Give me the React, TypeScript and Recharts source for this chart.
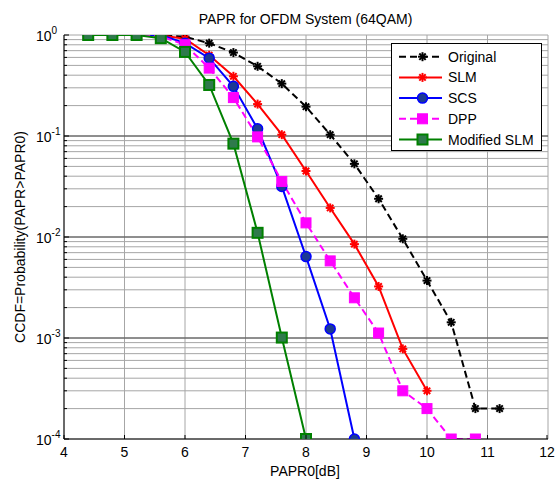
import {
  LineChart,
  Line,
  XAxis,
  YAxis,
  CartesianGrid,
  Legend,
  ReferenceLine,
} from "recharts";

// PAPR0 thresholds [dB]
const papr = [4.4, 4.8, 5.2, 5.6, 6.0, 6.4, 6.8, 7.2, 7.6, 8.0, 8.4, 8.8, 9.2, 9.6, 10.0, 10.4, 10.8, 11.2];

// CCDF values per scheme (null = not plotted)
const original = [1, 1, 1, 0.995, 0.96, 0.83, 0.67, 0.49, 0.33, 0.195, 0.103, 0.053, 0.0239, 0.0096, 0.0037, 0.00143, 0.0002, 0.0002];
const slm = [1, 1, 1, 0.99, 0.92, 0.63, 0.39, 0.207, 0.103, 0.045, 0.0194, 0.0085, 0.00324, 0.00078, 0.0003, null, null, null];
const scs = [1, 1, 1, 1, 0.83, 0.59, 0.31, 0.118, 0.0317, 0.0064, 0.00123, 0.0001, null, null, null, null, null, null];
const dpp = [1, 1, 1, 0.97, 0.8, 0.47, 0.24, 0.098, 0.0355, 0.0138, 0.0058, 0.0025, 0.00112, 0.0003, 0.0002, 0.0001, 0.0001, null];
const modifiedSlm = [1, 1, 1, 0.93, 0.68, 0.32, 0.084, 0.011, 0.00101, 0.0001, null, null, null, null, null, null, null, null];

const xTicks = [4, 5, 6, 7, 8, 9, 10, 11, 12];
const decades = [1e-4, 1e-3, 1e-2, 1e-1, 1];
const yTicks = decades.slice(0, 4).flatMap((d) => [1, 2, 3, 4, 5, 6, 7, 8, 9].map((m) => +(d * m).toPrecision(3))).concat([1]);

const FONT = "'Liberation Sans', Arial, Helvetica, sans-serif";

type MarkerKind = "star" | "circle" | "square" | "greenSquare";

const series: { key: string; name: string; color: string; dash?: string; marker: MarkerKind }[] = [
  { key: "original", name: "Original", color: "#000000", dash: "7 4", marker: "star" },
  { key: "slm", name: "SLM", color: "#ff0000", marker: "star" },
  { key: "scs", name: "SCS", color: "#0000ff", marker: "circle" },
  { key: "dpp", name: "DPP", color: "#ff00ff", dash: "7 4", marker: "square" },
  { key: "modifiedSlm", name: "Modified SLM", color: "#008000", marker: "greenSquare" },
];

const data = papr.map((x, i) => ({
  x,
  original: original[i],
  slm: slm[i],
  scs: scs[i],
  dpp: dpp[i],
  modifiedSlm: modifiedSlm[i],
}));

function Marker({ kind, color, cx, cy }: { kind: MarkerKind; color: string; cx: number; cy: number }) {
  if (kind === "star") {
    const r = 4.5;
    const d = 3.2;
    return (
      <g stroke={color} strokeWidth={2}>
        <line x1={cx - r} y1={cy} x2={cx + r} y2={cy} />
        <line x1={cx} y1={cy - r} x2={cx} y2={cy + r} />
        <line x1={cx - d} y1={cy - d} x2={cx + d} y2={cy + d} />
        <line x1={cx - d} y1={cy + d} x2={cx + d} y2={cy - d} />
      </g>
    );
  }
  if (kind === "circle") {
    return <circle cx={cx} cy={cy} r={5} fill="#1b3a94" stroke="#0000ff" strokeWidth={1.5} />;
  }
  if (kind === "square") {
    return <rect x={cx - 5} y={cy - 5} width={10} height={10} fill="#ff00ff" stroke="#ff00ff" strokeWidth={1} />;
  }
  return <rect x={cx - 5} y={cy - 5} width={10} height={10} fill="#2f7a4c" stroke="#008000" strokeWidth={2} />;
}

function makeDot(kind: MarkerKind, color: string, name: string) {
  return (p: any) => {
    if (p.cx == null || p.cy == null || p.value == null) return <g key={`${name}-${p.index}`} />;
    return (
      <g key={`${name}-${p.index}`}>
        <Marker kind={kind} color={color} cx={p.cx} cy={p.cy} />
      </g>
    );
  };
}

function LogTick(props: any) {
  const { y, payload } = props;
  const v = payload.value;
  const lg = Math.log10(v);
  const exp = Math.round(lg);
  const major = Math.abs(lg - exp) < 1e-6;
  return (
    <g>
      <line x1={64} x2={major ? 69 : 67} y1={y} y2={y} stroke="#000" />
      {major && (
        <text x={36} y={y + 6} fontSize={14} fontFamily={FONT} fill="#000">
          10
          <tspan dy={-7} fontSize={10}>
            {exp}
          </tspan>
        </text>
      )}
    </g>
  );
}

function RightTick(props: any) {
  const { y, payload } = props;
  const lg = Math.log10(payload.value);
  const major = Math.abs(lg - Math.round(lg)) < 1e-6;
  return <line x1={548} x2={major ? 543 : 545} y1={y} y2={y} stroke="#000" />;
}

function BottomTick(props: any) {
  const { x, payload } = props;
  return (
    <g>
      <line x1={x} x2={x} y1={439} y2={435} stroke="#000" />
      <text x={x} y={457} textAnchor="middle" fontSize={14} fontFamily={FONT} fill="#000">
        {payload.value}
      </text>
    </g>
  );
}

function TopTick(props: any) {
  const { x } = props;
  return <line x1={x} x2={x} y1={35} y2={39} stroke="#000" />;
}

function LegendBox() {
  return (
    <svg width={151} height={108} style={{ display: "block" }}>
      <rect x={0.5} y={0.5} width={150} height={107} fill="#ffffff" stroke="#000000" />
      {series.map((s, i) => {
        const y = 13.7 + i * 20.7;
        return (
          <g key={s.key}>
            <line x1={8} x2={51} y1={y} y2={y} stroke={s.color} strokeWidth={2} strokeDasharray={s.dash} />
            <Marker kind={s.marker} color={s.color} cx={31.5} cy={y} />
            <text x={57} y={y + 5} fontSize={14} fontFamily={FONT} fill="#000">
              {s.name}
            </text>
          </g>
        );
      })}
    </svg>
  );
}

export default function App() {
  return (
    <div style={{ position: "absolute", left: 0, top: 0, width: 555, height: 480, background: "#fff" }}>
      <LineChart width={555} height={480} data={data} margin={{ top: 35, right: 7, bottom: 0, left: 0 }}>
        <CartesianGrid stroke="#a6a6a6" strokeWidth={1} />
        {decades.slice(1, 4).map((d) => (
          <ReferenceLine key={d} y={d} stroke="#4a4a4a" strokeWidth={1} />
        ))}
        <XAxis
          dataKey="x"
          type="number"
          domain={[4, 12]}
          ticks={xTicks}
          height={41}
          axisLine={{ stroke: "#000" }}
          tickLine={false}
          tick={<BottomTick />}
          allowDataOverflow
        />
        <XAxis
          xAxisId="top"
          dataKey="x"
          type="number"
          orientation="top"
          domain={[4, 12]}
          ticks={xTicks}
          height={0}
          axisLine={{ stroke: "#000" }}
          tickLine={false}
          tick={<TopTick />}
        />
        <YAxis
          type="number"
          scale="log"
          domain={[1e-4, 1]}
          ticks={yTicks}
          width={64}
          axisLine={{ stroke: "#000" }}
          tickLine={false}
          tick={<LogTick />}
          interval={0}
          allowDataOverflow
        />
        <YAxis
          yAxisId="right"
          type="number"
          scale="log"
          orientation="right"
          domain={[1e-4, 1]}
          ticks={yTicks}
          width={0}
          axisLine={{ stroke: "#000" }}
          tickLine={false}
          tick={<RightTick />}
          interval={0}
          allowDataOverflow
        />
        {series.map((s) => (
          <Line
            key={s.key}
            dataKey={s.key}
            name={s.name}
            stroke={s.color}
            strokeWidth={2}
            strokeDasharray={s.dash}
            dot={makeDot(s.marker, s.color, s.key)}
            activeDot={false}
            isAnimationActive={false}
          />
        ))}
        <Legend
          layout="vertical"
          align="center"
          verticalAlign="middle"
          content={<LegendBox />}
          wrapperStyle={{ left: 391, top: 43, width: 151, height: 108 }}
        />
        <text x={305.5} y={24} textAnchor="middle" fontSize={14} fontFamily={FONT} fill="#000">
          PAPR for OFDM System (64QAM)
        </text>
        <text x={305} y={476} textAnchor="middle" fontSize={14} fontFamily={FONT} fill="#000">
          PAPR0[dB]
        </text>
        <text
          x={25}
          y={237}
          textAnchor="middle"
          fontSize={14}
          fontFamily={FONT}
          fill="#000"
          transform="rotate(-90 25 237)"
        >
          CCDF=Probability(PAPR&gt;PAPR0)
        </text>
      </LineChart>
    </div>
  );
}
